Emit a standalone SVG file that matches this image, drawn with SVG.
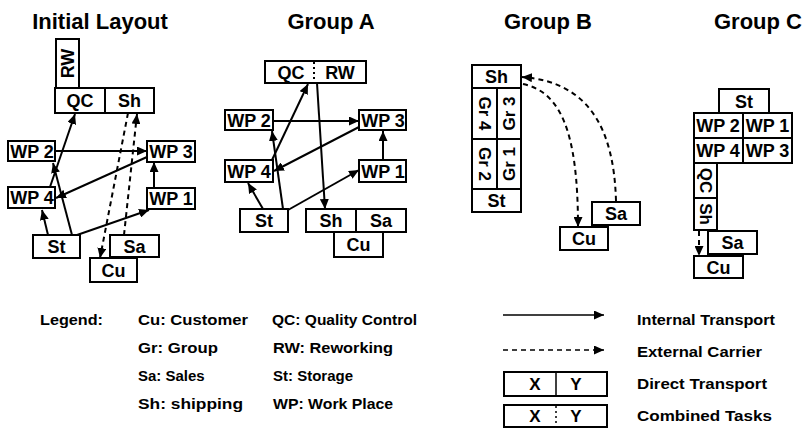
<svg xmlns="http://www.w3.org/2000/svg" width="803" height="429" viewBox="0 0 803 429">
  <style>
    text { font-family: "Liberation Sans", Arial, Helvetica, sans-serif; font-weight: bold; fill: #000; }
    .title { font-size: 22px; text-anchor: middle; }
    .lbl { font-size: 18px; text-anchor: middle; }
    .vlbl { font-size: 17px; text-anchor: middle; }
    .leg { font-size: 15px; }
    .box { fill: #fff; stroke: #000; stroke-width: 2; }
    .div { stroke: #000; stroke-width: 2; }
    .dot { stroke: #000; stroke-width: 2; stroke-dasharray: 2 3; }
    .int { fill: none; stroke: #000; stroke-width: 2; marker-end: url(#ah); }
    .ext { fill: none; stroke: #000; stroke-width: 2; stroke-dasharray: 5 4; marker-end: url(#ah); }
  </style>
  <defs>
    <marker id="ah" markerUnits="userSpaceOnUse" markerWidth="11" markerHeight="9" refX="10" refY="4.5" orient="auto">
      <path d="M0,0 L10,4.5 L0,9 z" fill="#000"/>
    </marker>
  </defs>
  <rect width="803" height="429" fill="#fff"/>

  <!-- Titles -->
  <text class="title" x="100" y="29">Initial Layout</text>
  <text class="title" x="331" y="29">Group A</text>
  <text class="title" x="548" y="29">Group B</text>
  <text class="title" x="758" y="29">Group C</text>

  <!-- Initial layout -->
  <g id="init-rw"><rect class="box" x="56" y="39" width="23" height="49"/><text class="lbl" transform="translate(67.5,63.5) rotate(-90)" y="6.4">RW</text></g>
  <g id="init-qc-sh">
    <rect class="box" x="55" y="88" width="99" height="25"/><line class="div" x1="105" y1="88" x2="105" y2="113"/>
    <text class="lbl" x="80" y="107">QC</text><text class="lbl" x="129.5" y="107">Sh</text>
  </g>
  <g id="init-wp2"><rect class="box" x="8" y="141" width="47" height="20"/><text class="lbl" x="32" y="157.5">WP 2</text></g>
  <g id="init-wp3"><rect class="box" x="147" y="141" width="48" height="21"/><text class="lbl" x="171" y="158">WP 3</text></g>
  <g id="init-wp4"><rect class="box" x="8" y="187" width="47" height="21"/><text class="lbl" x="32" y="204">WP 4</text></g>
  <g id="init-wp1"><rect class="box" x="147" y="188" width="48" height="21"/><text class="lbl" x="171" y="205">WP 1</text></g>
  <g id="init-st"><rect class="box" x="33" y="235" width="47" height="23"/><text class="lbl" x="56.5" y="253">St</text></g>
  <g id="init-sa"><rect class="box" x="110" y="235" width="49" height="22"/><text class="lbl" x="134.5" y="252.5">Sa</text></g>
  <g id="init-cu"><rect class="box" x="90" y="258" width="47" height="24"/><text class="lbl" x="113.5" y="276.5">Cu</text></g>

  <!-- Group A -->
  <g id="a-qc-rw">
    <rect class="box" x="265" y="61" width="101" height="22"/><line class="dot" x1="314" y1="62" x2="314" y2="82"/>
    <text class="lbl" x="291" y="78.5">QC</text><text class="lbl" x="340" y="78.5">RW</text>
  </g>
  <g id="a-wp2"><rect class="box" x="225" y="110" width="48" height="20"/><text class="lbl" x="249" y="126.5">WP 2</text></g>
  <g id="a-wp3"><rect class="box" x="359" y="110" width="47" height="20"/><text class="lbl" x="383" y="126.5">WP 3</text></g>
  <g id="a-wp4"><rect class="box" x="225" y="160" width="48" height="22"/><text class="lbl" x="249" y="177.5">WP 4</text></g>
  <g id="a-wp1"><rect class="box" x="359" y="160" width="47" height="22"/><text class="lbl" x="383" y="177.5">WP 1</text></g>
  <g id="a-st"><rect class="box" x="240" y="209" width="48" height="23"/><text class="lbl" x="264" y="227">St</text></g>
  <g id="a-sh-sa">
    <rect class="box" x="306" y="209" width="100" height="23"/><line class="div" x1="356" y1="209" x2="356" y2="232"/>
    <text class="lbl" x="331" y="227">Sh</text><text class="lbl" x="381" y="227">Sa</text>
  </g>
  <g id="a-cu"><rect class="box" x="334" y="232" width="49" height="25"/><text class="lbl" x="358.5" y="251">Cu</text></g>

  <!-- Group B -->
  <g id="b-sh"><rect class="box" x="472" y="65" width="49" height="23"/><text class="lbl" x="496.5" y="83">Sh</text></g>
  <g id="b-gr4"><rect class="box" x="472" y="88" width="25" height="51"/><text class="vlbl" transform="translate(484.5,113.5) rotate(90)" y="6">Gr 4</text></g>
  <g id="b-gr3"><rect class="box" x="497" y="88" width="24" height="51"/><text class="vlbl" transform="translate(509,113.5) rotate(-90)" y="6">Gr 3</text></g>
  <g id="b-gr2"><rect class="box" x="472" y="139" width="25" height="50"/><text class="vlbl" transform="translate(484.5,164) rotate(90)" y="6">Gr 2</text></g>
  <g id="b-gr1"><rect class="box" x="497" y="139" width="24" height="50"/><text class="vlbl" transform="translate(509,164) rotate(-90)" y="6">Gr 1</text></g>
  <g id="b-st"><rect class="box" x="472" y="189" width="49" height="23"/><text class="lbl" x="496.5" y="207">St</text></g>
  <g id="b-sa"><rect class="box" x="592" y="202" width="48" height="23"/><text class="lbl" x="616" y="220">Sa</text></g>
  <g id="b-cu"><rect class="box" x="560" y="227" width="48" height="23"/><text class="lbl" x="584" y="245">Cu</text></g>

  <!-- Group C -->
  <g id="c-st"><rect class="box" x="719" y="89" width="50" height="24"/><text class="lbl" x="744" y="107.5">St</text></g>
  <g id="c-wp2"><rect class="box" x="694" y="113" width="49" height="25"/><text class="lbl" x="718" y="132">WP 2</text></g>
  <g id="c-wp1"><rect class="box" x="743" y="113" width="49" height="25"/><text class="lbl" x="767.5" y="132">WP 1</text></g>
  <g id="c-wp4"><rect class="box" x="694" y="138" width="49" height="25"/><text class="lbl" x="718" y="157">WP 4</text></g>
  <g id="c-wp3"><rect class="box" x="743" y="138" width="49" height="25"/><text class="lbl" x="767.5" y="157">WP 3</text></g>
  <g id="c-qc"><rect class="box" x="694" y="163" width="23" height="35"/><text class="vlbl" transform="translate(705.5,180.5) rotate(90)" y="6">QC</text></g>
  <g id="c-sh"><rect class="box" x="694" y="198" width="23" height="32"/><text class="vlbl" transform="translate(705.5,214) rotate(90)" y="6">Sh</text></g>
  <g id="c-sa"><rect class="box" x="708" y="231" width="49" height="23"/><text class="lbl" x="732.5" y="249">Sa</text></g>
  <g id="c-cu"><rect class="box" x="694" y="256" width="49" height="22"/><text class="lbl" x="718.5" y="273.5">Cu</text></g>

  <!-- Connectors -->
  <g id="connectors">
    <!-- initial layout -->
    <path class="int" d="M48,235 L42,210"/>
    <path class="int" d="M72,235 L53,163"/>
    <path class="int" d="M50,187 L75,114"/>
    <path class="int" d="M77,235 L149,210"/>
    <path class="int" d="M55,151 L147,151"/>
    <path class="int" d="M147,157 L56,198"/>
    <path class="int" d="M154,188 L154,162"/>
    <path class="ext" d="M124,235 L137,114"/>
    <path class="ext" d="M128,113 L100,258"/>
    <!-- group A -->
    <path class="int" d="M273,121 L359,121"/>
    <path class="int" d="M272,160 L308,84"/>
    <path class="int" d="M283,209 L272,131"/>
    <path class="int" d="M263,209 L248,183"/>
    <path class="int" d="M288,210 L359,170"/>
    <path class="int" d="M359,127 L274,171"/>
    <path class="int" d="M383,160 L383,131"/>
    <path class="int" d="M317,83 L325,209"/>
    <!-- group B -->
    <path class="ext" d="M616,201 C614,130 590,82 522,77"/>
    <path class="ext" d="M523,84 C560,92 578,130 578,227"/>
    <!-- group C -->
    <path class="ext" d="M699,231 L699,256"/>
  </g>

  <!-- Legend -->
  <g id="legend">
    <text class="leg" x="40" y="325" textLength="63" lengthAdjust="spacingAndGlyphs">Legend:</text>
    <text class="leg" x="138" y="325" textLength="110" lengthAdjust="spacingAndGlyphs">Cu: Customer</text>
    <text class="leg" x="272" y="325" textLength="145" lengthAdjust="spacingAndGlyphs">QC: Quality Control</text>
    <text class="leg" x="138" y="353" textLength="80" lengthAdjust="spacingAndGlyphs">Gr: Group</text>
    <text class="leg" x="273" y="353" textLength="120" lengthAdjust="spacingAndGlyphs">RW: Reworking</text>
    <text class="leg" x="138" y="381">Sa: Sales</text>
    <text class="leg" x="273" y="381">St: Storage</text>
    <text class="leg" x="138" y="409" textLength="105" lengthAdjust="spacingAndGlyphs">Sh: shipping</text>
    <text class="leg" x="273" y="409" textLength="120" lengthAdjust="spacingAndGlyphs">WP: Work Place</text>

    <line x1="503" y1="315" x2="604" y2="315" stroke="#000" stroke-width="1.5" marker-end="url(#ah)"/>
    <line x1="503" y1="350" x2="604" y2="350" stroke="#000" stroke-width="1.5" stroke-dasharray="5 4" marker-end="url(#ah)"/>
    <rect class="box" x="504" y="372" width="103" height="24" stroke-width="1.5"/>
    <line x1="556" y1="372" x2="556" y2="396" stroke="#000" stroke-width="1.5"/>
    <text class="lbl" x="535" y="390" style="font-size:17px">X</text>
    <text class="lbl" x="576" y="390" style="font-size:17px">Y</text>
    <rect class="box" x="504" y="405" width="103" height="22" stroke-width="1.5"/>
    <line x1="556" y1="406" x2="556" y2="426" stroke="#000" stroke-width="1.5" stroke-dasharray="2 3"/>
    <text class="lbl" x="535" y="422" style="font-size:17px">X</text>
    <text class="lbl" x="576" y="422" style="font-size:17px">Y</text>

    <text class="leg" x="637" y="325" textLength="138" lengthAdjust="spacingAndGlyphs">Internal Transport</text>
    <text class="leg" x="637" y="357" textLength="125" lengthAdjust="spacingAndGlyphs">External Carrier</text>
    <text class="leg" x="637" y="389" textLength="130" lengthAdjust="spacingAndGlyphs">Direct Transport</text>
    <text class="leg" x="637" y="421" textLength="135" lengthAdjust="spacingAndGlyphs">Combined Tasks</text>
  </g>
</svg>
